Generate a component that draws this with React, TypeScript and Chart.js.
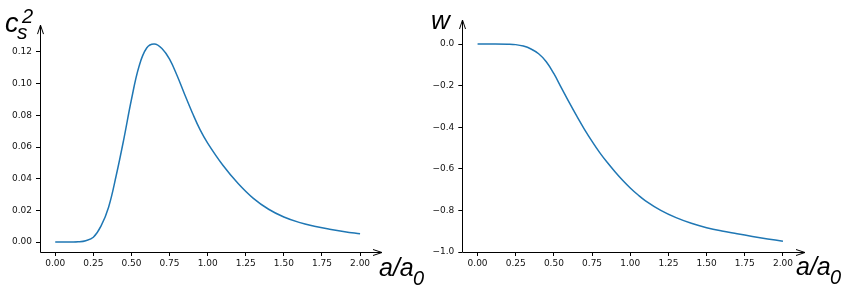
import React, { useEffect, useRef } from "react";
import { Chart, registerables } from "chart.js";
Chart.register(...registerables);

// ---- data ----
const A_CS = [0, 0.1, 0.15, 0.2, 0.25, 0.3, 0.35, 0.4, 0.45, 0.5, 0.55, 0.6, 0.65, 0.7, 0.75, 0.8, 0.85, 0.9, 0.95, 1.0, 1.1, 1.2, 1.3, 1.4, 1.5, 1.6, 1.7, 1.8, 1.9, 2.0];
const CS2 = [0, 0, 0.0001, 0.0008, 0.003, 0.010, 0.022, 0.042, 0.065, 0.090, 0.111, 0.1225, 0.125, 0.1222, 0.1155, 0.105, 0.093, 0.0815, 0.071, 0.0625, 0.0485, 0.0370, 0.0276, 0.0207, 0.0158, 0.0124, 0.0100, 0.0081, 0.0065, 0.0052];

const A_W = [0, 0.1, 0.2, 0.25, 0.3, 0.35, 0.4, 0.45, 0.5, 0.55, 0.6, 0.65, 0.7, 0.75, 0.8, 0.85, 0.9, 0.95, 1.0, 1.05, 1.1, 1.2, 1.3, 1.4, 1.5, 1.6, 1.7, 1.8, 1.9, 2.0];
const W = [0, 0, -0.001, -0.003, -0.010, -0.024, -0.047, -0.085, -0.143, -0.212, -0.281, -0.347, -0.410, -0.468, -0.522, -0.570, -0.614, -0.655, -0.692, -0.725, -0.754, -0.800, -0.835, -0.862, -0.883, -0.899, -0.912, -0.925, -0.937, -0.948];

const X_TICKS = [0, 0.25, 0.5, 0.75, 1.0, 1.25, 1.5, 1.75, 2.0];
const CS2_TICKS = [0, 0.02, 0.04, 0.06, 0.08, 0.1, 0.12];
const W_TICKS = [0, -0.2, -0.4, -0.6, -0.8, -1.0];

const LINE_COLOR = "#1f77b4";
const TICK_FONT = { family: "DejaVu Sans", size: 9 };

const axesPlugin = {
  id: "axesArrows",
  afterDraw(chart: any, _args: any, opts: any) {
    const { ctx, chartArea } = chart;
    const { left, right, top, bottom } = chartArea;
    ctx.save();
    ctx.strokeStyle = "#000";
    ctx.lineWidth = 1;
    const yb = Math.round(bottom) + 0.5;
    const xl = Math.round(left) + 0.5;
    const xTip = right + opts.xExt;
    const yTip = top - opts.yExt;
    ctx.beginPath();
    ctx.moveTo(xl, yb);
    ctx.lineTo(xTip, yb);
    ctx.moveTo(xTip - 9, yb - 3);
    ctx.lineTo(xTip, yb);
    ctx.lineTo(xTip - 9, yb + 3);
    ctx.moveTo(xl, yb);
    ctx.lineTo(xl, yTip);
    ctx.moveTo(xl - 3, yTip + 9);
    ctx.lineTo(xl, yTip);
    ctx.lineTo(xl + 3, yTip + 9);
    ctx.stroke();
    ctx.fillStyle = "#000";
    ctx.textBaseline = "alphabetic";
    ctx.textAlign = "left";
    for (const t of opts.texts) {
      ctx.font = `italic ${t.size}px "Liberation Sans", Arial, sans-serif`;
      ctx.fillText(t.text, t.x, t.y);
    }
    ctx.restore();
  },
};

function xScale() {
  return {
    type: "linear",
    min: -0.1,
    max: 2.1,
    afterBuildTicks: (s: any) => {
      s.ticks = X_TICKS.map((v) => ({ value: v }));
    },
    afterFit: (s: any) => {
      s.height = 36;
    },
    grid: { display: true, drawOnChartArea: false, drawTicks: true, tickLength: 4, color: "#000" },
    border: { display: false },
    ticks: {
      padding: 2,
      color: "#111",
      font: TICK_FONT,
      maxRotation: 0,
      autoSkip: false,
      callback: (v: any) => Number(v).toFixed(2),
    },
  };
}

function yScale(min: number, max: number, ticks: number[], digits: number) {
  return {
    type: "linear",
    min,
    max,
    afterBuildTicks: (s: any) => {
      s.ticks = ticks.map((v) => ({ value: v }));
    },
    afterFit: (s: any) => {
      s.width = 40;
    },
    grid: { display: true, drawOnChartArea: false, drawTicks: true, tickLength: 4, color: "#000" },
    border: { display: false },
    ticks: {
      padding: 4,
      color: "#111",
      font: TICK_FONT,
      autoSkip: false,
      callback: (v: any) => {
        const n = Number(v);
        const s = Math.abs(n).toFixed(digits);
        return n < -1e-9 ? "\u2212" + s : s;
      },
    },
  };
}

function makeConfig(xs: number[], ys: number[], y: any, padding: any, plug: any) {
  return {
    type: "line",
    data: {
      datasets: [
        {
          data: xs.map((x, i) => ({ x, y: ys[i] })),
          borderColor: LINE_COLOR,
          borderWidth: 1.5,
          pointRadius: 0,
          fill: false,
          tension: 0.4,
        },
      ],
    },
    options: {
      animation: false,
      responsive: false,
      maintainAspectRatio: false,
      devicePixelRatio: 1,
      layout: { padding },
      scales: { x: xScale(), y },
      plugins: {
        legend: { display: false },
        tooltip: { enabled: false },
        axesArrows: plug,
      },
    },
    plugins: [axesPlugin],
  };
}

export default function App() {
  const leftRef = useRef<HTMLCanvasElement>(null);
  const rightRef = useRef<HTMLCanvasElement>(null);

  useEffect(() => {
    const c1 = new Chart(
      leftRef.current as HTMLCanvasElement,
      makeConfig(
        A_CS,
        CS2,
        yScale(-0.0063, 0.1313, CS2_TICKS, 2),
        { left: 0, right: 472.7, top: 34.1, bottom: 0 },
        {
          xExt: 6.7,
          yExt: 9,
          texts: [
            { text: "c", x: 5, y: 32, size: 27 },
            { text: "s", x: 17, y: 39, size: 21 },
            { text: "2", x: 22, y: 23, size: 20 },
            { text: "a/a", x: 379, y: 276, size: 25 },
            { text: "0", x: 413, y: 285, size: 20 },
          ],
        }
      ) as any
    );
    const c2 = new Chart(
      rightRef.current as HTMLCanvasElement,
      makeConfig(
        A_W,
        W,
        yScale(-1.0, 0.05, W_TICKS, 1),
        { left: 422.3, right: 49.8, top: 33.6, bottom: 0 },
        {
          xExt: 6.8,
          yExt: 13.6,
          texts: [
            { text: "w", x: 431, y: 29, size: 26 },
            { text: "a/a", x: 796, y: 275, size: 25 },
            { text: "0", x: 830, y: 284, size: 20 },
          ],
        }
      ) as any
    );
    return () => {
      c1.destroy();
      c2.destroy();
    };
  }, []);

  const cv: React.CSSProperties = { position: "absolute", left: 0, top: 0, width: 848, height: 288 };
  return (
    <div style={{ position: "absolute", left: 0, top: 0, width: 848, height: 288, background: "#fff" }}>
      <canvas ref={leftRef} width={848} height={288} style={cv} />
      <canvas ref={rightRef} width={848} height={288} style={cv} />
    </div>
  );
}
